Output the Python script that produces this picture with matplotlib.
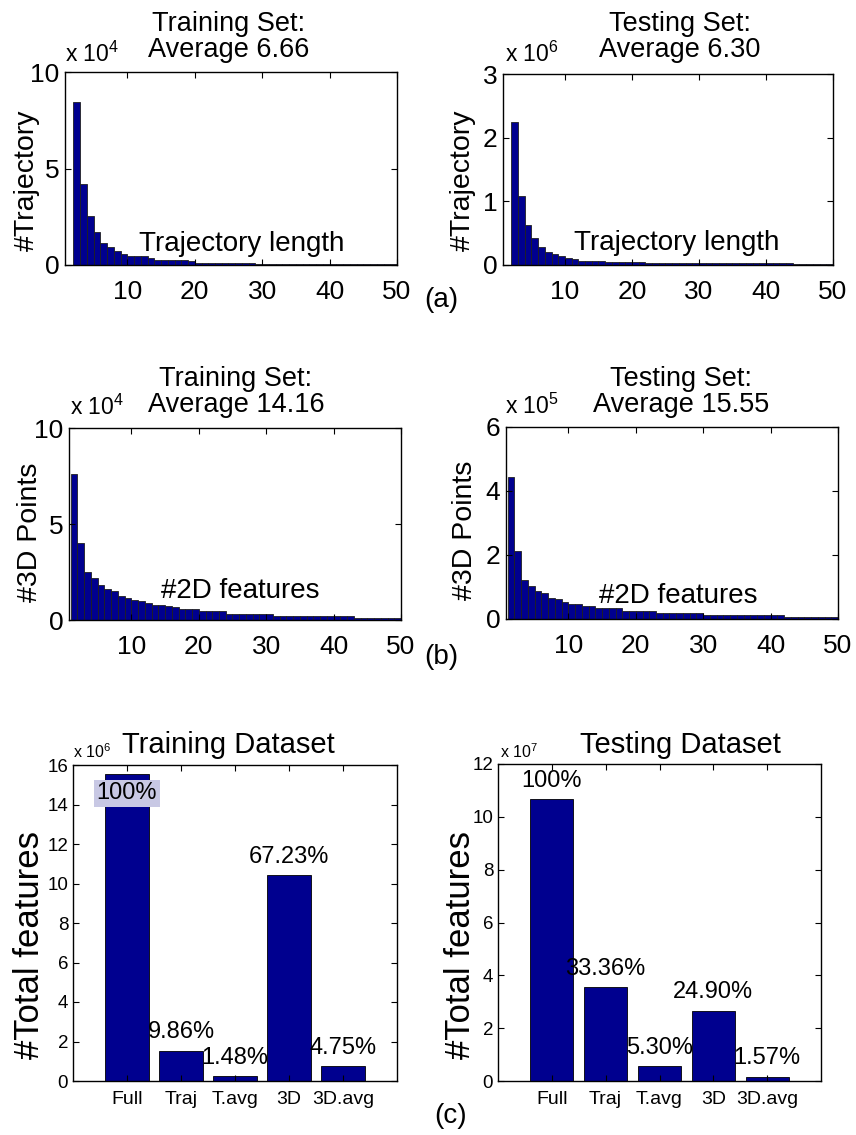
import numpy as np
import matplotlib.pyplot as plt

plt.rcParams['font.family'] = ['Liberation Sans', 'DejaVu Sans']
plt.rcParams['mathtext.fontset'] = 'custom'
plt.rcParams['mathtext.rm'] = 'Liberation Sans'
plt.rcParams['axes.linewidth'] = 1.0

W, H = 856, 1135
BLUE = '#00008F'

# (a) trajectory length histograms, lengths 2..49
traj_train = [8.45, 4.22, 2.52, 1.70, 1.13, 0.92, 0.71, 0.57, 0.47, 0.45, 0.45, 0.34,
              0.24, 0.24, 0.24, 0.24, 0.24, 0.22,
              0.10, 0.10, 0.09, 0.09, 0.09, 0.08, 0.08, 0.08, 0.08, 0.07, 0.07, 0.07,
              0.07, 0.07, 0.06, 0.06, 0.06, 0.06, 0.06, 0.06, 0.05, 0.05, 0.05, 0.05,
              0.05, 0.05, 0.05, 0.05, 0.05, 0.05]  # x 10^4
traj_test = [2.25, 1.08, 0.63, 0.42, 0.29, 0.21, 0.18, 0.14, 0.11, 0.10, 0.07, 0.07,
             0.07, 0.07, 0.045, 0.045, 0.04, 0.04, 0.04, 0.04, 0.035, 0.035, 0.035, 0.035,
             0.03, 0.03, 0.03, 0.03, 0.03, 0.03, 0.03, 0.03, 0.03, 0.03,
             0.025, 0.025, 0.025, 0.025, 0.025, 0.025, 0.025, 0.025,
             0.02, 0.02, 0.02, 0.02, 0.02, 0.02]  # x 10^6

# (b) #3D points per #2D features, 1..49
pts_train = [7.58, 4.02, 2.52, 2.17, 1.84, 1.60, 1.50, 1.25, 1.15, 1.04, 0.97, 0.88,
             0.80, 0.78, 0.72, 0.70, 0.57, 0.57, 0.57, 0.45, 0.45, 0.45, 0.45,
             0.33, 0.33, 0.33, 0.33, 0.33, 0.33, 0.33,
             0.23, 0.23, 0.23, 0.23, 0.23, 0.23, 0.23, 0.23, 0.23, 0.23, 0.23, 0.23,
             0.12, 0.12, 0.12, 0.12, 0.12, 0.12, 0.12]  # x 10^4
pts_test = [4.45, 2.11, 1.21, 1.03, 0.88, 0.82, 0.67, 0.61, 0.54, 0.47, 0.47, 0.40, 0.40,
            0.33, 0.33, 0.33, 0.33, 0.25, 0.25, 0.25, 0.25, 0.25,
            0.20, 0.20, 0.20, 0.20, 0.20, 0.20, 0.20,
            0.11, 0.11, 0.11, 0.11, 0.11, 0.11, 0.11, 0.11, 0.11, 0.11, 0.11, 0.11,
            0.06, 0.06, 0.06, 0.06, 0.06, 0.06, 0.06, 0.06]  # x 10^5

# (c) total features
methods = ['Full', 'Traj', 'T.avg', '3D', '3D.avg']
total_train = [15.52, 1.53, 0.23, 10.43, 0.74]     # x 10^6
total_test = [10.67, 3.56, 0.565, 2.657, 0.168]    # x 10^7
pct_train = ['100%', '9.86%', '1.48%', '67.23%', '4.75%']
pct_test = ['100%', '33.36%', '5.30%', '24.90%', '1.57%']


def box(x0, y0, x1, y1):
    return [x0 / W, 1 - y1 / H, (x1 - x0) / W, (y1 - y0) / H]


def ftext(x, y, s, **kw):
    fig.text(x / W, 1 - y / H, s, **kw)


fig = plt.figure(figsize=(W / 100, H / 100), dpi=100)


def hist_panel(rect, start, vals, ymax, yticks, exp, title, title_xy, exp_xy,
               ylabel, ylabel_xy, inner, inner_xy):
    ax = fig.add_axes(box(*rect))
    x = np.arange(start, start + len(vals)) + 0.5
    ax.bar(x, vals, width=1.0, color=BLUE, edgecolor='#202020', linewidth=0.6)
    ax.set_xlim(0.75, 50)
    ax.set_ylim(0, ymax)
    ax.set_xticks([10, 20, 30, 40, 50])
    ax.set_yticks(yticks)
    ax.tick_params(direction='in', top=True, right=True, length=4, labelsize=19)
    ax.tick_params(axis='x', pad=11)
    ax.tick_params(axis='y', pad=4)
    ax.text(inner_xy[0], inner_xy[1], inner, transform=ax.transAxes, ha='center',
            va='baseline', fontsize=20)
    ftext(*title_xy, title, ha='center', va='baseline', fontsize=19.5, linespacing=1.0)
    ftext(*exp_xy, 'x 10$^{%d}$' % exp, ha='left', va='baseline', fontsize=16.5)
    ftext(*ylabel_xy, ylabel, ha='center', va='center', rotation=90, fontsize=20.5)
    return ax


hist_panel((65, 72, 397, 265), 2, traj_train, 10, [0, 5, 10], 4,
           'Training Set:\nAverage 6.66', (229, 57), (65, 62),
           '#Trajectory', (27, 180), 'Trajectory length', (0.532, 0.07))
hist_panel((503, 74, 833, 265), 2, traj_test, 3, [0, 1, 2, 3], 6,
           'Testing Set:\nAverage 6.30', (680, 57), (505, 62),
           '#Trajectory', (463, 180), 'Trajectory length', (0.526, 0.08))
hist_panel((69, 428, 401, 620), 1, pts_train, 10, [0, 5, 10], 4,
           'Training Set:\nAverage 14.16', (236, 412), (70, 415),
           '#3D Points', (30, 532), '#2D features', (0.515, 0.115))
hist_panel((506, 427, 838, 619), 1, pts_test, 6, [0, 2, 4, 6], 5,
           'Testing Set:\nAverage 15.55', (681, 412), (505, 414),
           '#3D Points', (465, 530), '#2D features', (0.519, 0.085))


def total_panel(rect, vals, pcts, ymax, exp, title, title_x, exp_x, ylabel_x):
    ax = fig.add_axes(box(*rect))
    pos = np.arange(1, len(vals) + 1)
    ax.bar(pos, vals, width=0.8, color=BLUE, edgecolor='black', linewidth=0.6)
    ax.set_xlim(0, 6)
    ax.set_ylim(0, ymax)
    ax.set_yticks(np.arange(0, ymax + 1, 2))
    ax.set_xticks(pos)
    ax.set_xticklabels(methods)
    ax.tick_params(direction='in', top=True, right=True, length=4, labelsize=13.5)
    ax.tick_params(axis='x', labelsize=14, pad=7)
    off = 0.058 * ymax
    for p, v, s in zip(pos, vals, pcts):
        y = v + off
        kw = {}
        if y > 0.98 * ymax:
            # no room above the bar: put the label inside its top
            y = 0.91 * ymax
            kw['bbox'] = dict(facecolor='#c8c8e4', edgecolor='none', pad=2)
        ax.text(p, y, s, ha='center', va='center', fontsize=17, **kw)
    ftext(title_x, 753, title, ha='center', va='baseline', fontsize=21)
    ftext(exp_x, 758, 'x 10$^{%d}$' % exp, ha='left', va='baseline', fontsize=11.5)
    ftext(ylabel_x, 945, '#Total features', ha='center', va='center', rotation=90,
          fontsize=25)
    return ax


total_panel((73, 765, 397, 1081), total_train, pct_train, 16, 6,
            'Training Dataset', 228, 73, 30)
total_panel((498, 764, 821, 1081), total_test, pct_test, 12, 7,
            'Testing Dataset', 680, 500, 461)

ftext(441, 300, '(a)', ha='center', va='center', fontsize=20)
ftext(441, 657, '(b)', ha='center', va='center', fontsize=20)
ftext(451, 1116, '(c)', ha='center', va='center', fontsize=20)

fig.savefig('out.png', dpi=100)
